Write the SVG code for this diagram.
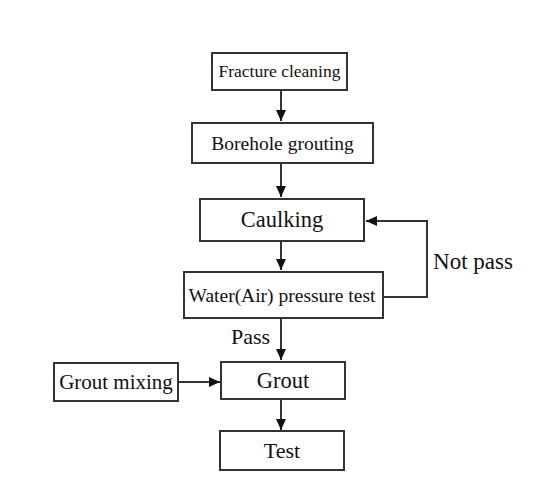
<svg xmlns="http://www.w3.org/2000/svg" width="539" height="489" viewBox="0 0 539 489">
<defs>
<style>
.box{fill:#fff;stroke:#333;stroke-width:2}
.lbl{fill:#111;text-anchor:middle}
.edge{fill:none;stroke:#333;stroke-width:2}
</style>
<marker id="ah" markerWidth="12" markerHeight="12" refX="11" refY="6" orient="auto" markerUnits="userSpaceOnUse">
<path d="M0,1 L11,6 L0,11 Z" fill="#111"/>
</marker>
</defs>
<rect width="539" height="489" fill="#fff"/>
<g font-family="Liberation Serif, Times New Roman, serif">
<g id="n-fracture">
<rect class="box" x="212" y="53" width="135" height="37"/>
<text class="lbl" x="279.5" y="77" font-size="17.5">Fracture cleaning</text>
</g>
<g id="n-borehole">
<rect class="box" x="192" y="123" width="181" height="40"/>
<text class="lbl" x="282.5" y="150" font-size="19.5">Borehole grouting</text>
</g>
<g id="n-caulking">
<rect class="box" x="200" y="199" width="164" height="42"/>
<text class="lbl" x="282" y="227" font-size="22.5">Caulking</text>
</g>
<g id="n-water">
<rect class="box" x="184" y="272" width="199" height="46"/>
<text class="lbl" x="282" y="302" font-size="19.5">Water(Air) pressure test</text>
</g>
<g id="n-grout">
<rect class="box" x="221" y="362" width="124" height="37"/>
<text class="lbl" x="283" y="388" font-size="22.5">Grout</text>
</g>
<g id="n-mixing">
<rect class="box" x="54" y="363" width="124" height="38"/>
<text class="lbl" x="116" y="389" font-size="21">Grout mixing</text>
</g>
<g id="n-test">
<rect class="box" x="220" y="431" width="124" height="39"/>
<text class="lbl" x="282" y="458" font-size="22">Test</text>
</g>
<g id="connectors">
<line class="edge" x1="281" y1="90" x2="281" y2="121" marker-end="url(#ah)"/>
<line class="edge" x1="281" y1="163" x2="281" y2="197" marker-end="url(#ah)"/>
<line class="edge" x1="281" y1="241" x2="281" y2="270" marker-end="url(#ah)"/>
<line class="edge" x1="281" y1="318" x2="281" y2="360" marker-end="url(#ah)"/>
<line class="edge" x1="281" y1="399" x2="281" y2="430" marker-end="url(#ah)"/>
<line class="edge" x1="178" y1="382" x2="220" y2="382" marker-end="url(#ah)"/>
<polyline class="edge" points="383,297 427,297 427,221 366,221" marker-end="url(#ah)"/>
<text class="lbl" x="250.5" y="344" font-size="22">Pass</text>
<text class="lbl" x="473" y="269" font-size="23">Not pass</text>
</g>
</g>
</svg>
